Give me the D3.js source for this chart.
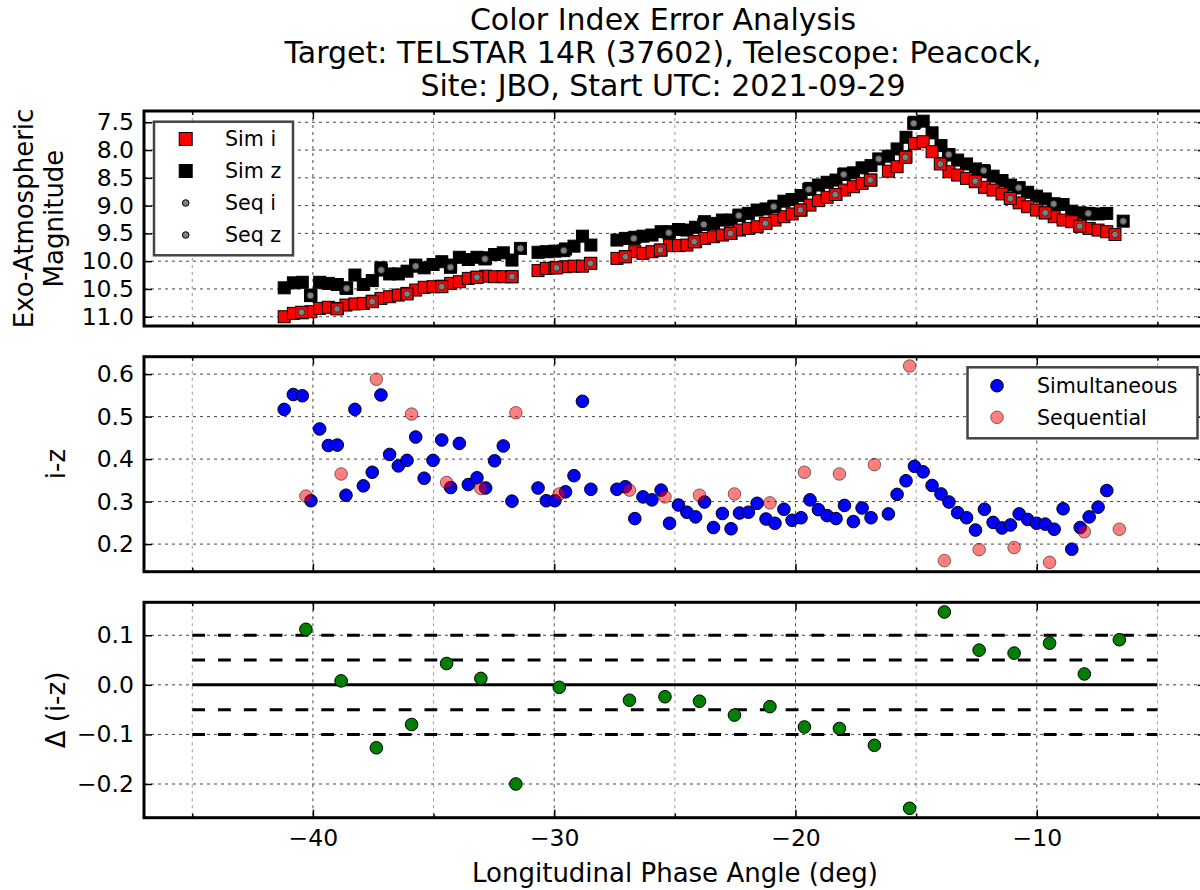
<!DOCTYPE html>
<html>
<head>
  <meta charset="utf-8">
  <title>Color Index Error Analysis</title>
  <style>
    body { margin: 0; padding: 0; background: white; }
    svg { display: block; font-family: "DejaVu Sans", sans-serif; }
    .grid { stroke: #444; stroke-width: 1; stroke-dasharray: 3,4; }
    .grid.minor { stroke: #999; }
    .spine { fill: none; stroke: black; stroke-width: 3; }
    .tick line { stroke: black; stroke-width: 1.5; }
    .tick text { font-family: "DejaVu Sans", sans-serif; font-size: 23.5px; fill: black; }
    .label { font-size: 26px; }
    .title { font-size: 30px; }
    .legend .box { fill: white; stroke: #444; stroke-width: 2.5; }
    .legend text { font-size: 20.6px; }
  </style>
</head>
<body>
  <div id="chart"></div>
  <script src="https://d3js.org/d3.v7.min.js"></script>
  <script>

  // simultaneous i/z frames: phase angle (deg), magnitudes and colour
  var simX = [-41.19, -40.81, -40.44, -40.08, -39.72, -39.36, -38.99, -38.63, -38.26, -37.91,
              -37.54, -37.18, -36.82, -36.46, -36.10, -35.74, -35.39, -35.02, -34.66, -34.29,
              -33.93, -33.56, -33.20, -32.84, -32.47, -32.11, -31.75, -30.67, -30.33, -29.97,
              -29.53, -29.18, -28.83, -28.48, -27.40, -27.05, -26.66, -26.32, -25.95, -25.57,
              -25.22, -24.85, -24.50, -24.14, -23.77, -23.40, -23.03, -22.67, -22.32, -21.95,
              -21.59, -21.22, -20.85, -20.48, -20.14, -19.77, -19.40, -19.05, -18.69, -18.32,
              -17.97, -17.60, -17.24, -16.87, -16.15, -15.79, -15.42, -15.07, -14.71, -14.34,
              -13.97, -13.64, -13.28, -12.91, -12.54, -12.17, -11.81, -11.44, -11.09, -10.73,
              -10.38, -10.01, -9.65, -9.28, -8.91, -8.55, -8.20, -7.83, -7.46, -7.10]
  var simI = [11.00, 10.94, 10.93, 10.91, 10.85, 10.83, 10.85, 10.79, 10.77, 10.76,
              10.72, 10.67, 10.64, 10.61, 10.58, 10.52, 10.47, 10.46, 10.45, 10.40,
              10.37, 10.31, 10.29, 10.27, 10.28, 10.28, 10.28, 10.17, 10.13, 10.12,
              10.10, 10.09, 10.09, 10.04, 9.95, 9.92, 9.83, 9.86, 9.83, 9.80,
              9.72, 9.72, 9.71, 9.65, 9.59, 9.56, 9.53, 9.50, 9.44, 9.41,
              9.38, 9.32, 9.26, 9.20, 9.15, 9.08, 8.99, 8.91, 8.85, 8.80,
              8.72, 8.66, 8.60, 8.54, 8.38, 8.30, 8.12, 7.88, 7.85, 8.03,
              8.24, 8.39, 8.45, 8.51, 8.57, 8.67, 8.72, 8.79, 8.87, 8.95,
              9.02, 9.08, 9.13, 9.20, 9.26, 9.29, 9.37, 9.41, 9.44, 9.47]
  var simZ = [10.48, 10.39, 10.38, 10.61, 10.38, 10.40, 10.42, 10.48, 10.25, 10.42,
              10.35, 10.12, 10.23, 10.23, 10.18, 10.07, 10.12, 10.06, 10.01, 10.07,
              9.93, 9.97, 9.93, 9.94, 9.88, 9.85, 9.98, 9.84, 9.83, 9.82,
              9.78, 9.73, 9.55, 9.71, 9.62, 9.59, 9.57, 9.55, 9.53, 9.47,
              9.47, 9.43, 9.44, 9.39, 9.29, 9.32, 9.26, 9.26, 9.17, 9.14,
              9.08, 9.06, 9.01, 8.92, 8.89, 8.82, 8.69, 8.63, 8.58, 8.54,
              8.43, 8.41, 8.32, 8.28, 8.11, 7.98, 7.77, 7.50, 7.48, 7.69,
              7.92, 8.09, 8.18, 8.25, 8.34, 8.39, 8.47, 8.55, 8.63, 8.68,
              8.76, 8.83, 8.88, 8.97, 8.98, 9.10, 9.13, 9.15, 9.15, 9.14]
  var simIZ = [0.517, 0.552, 0.549, 0.302, 0.471, 0.432, 0.433, 0.315, 0.517, 0.337,
               0.369, 0.551, 0.411, 0.384, 0.397, 0.452, 0.355, 0.397, 0.445, 0.333,
               0.437, 0.340, 0.356, 0.332, 0.396, 0.431, 0.301, 0.332, 0.302, 0.302,
               0.323, 0.361, 0.536, 0.329, 0.329, 0.335, 0.260, 0.311, 0.304, 0.327,
               0.249, 0.292, 0.275, 0.264, 0.299, 0.239, 0.272, 0.236, 0.273, 0.275,
               0.296, 0.259, 0.249, 0.282, 0.256, 0.262, 0.304, 0.281, 0.267, 0.260,
               0.291, 0.253, 0.285, 0.262, 0.271, 0.317, 0.349, 0.383, 0.370, 0.338,
               0.318, 0.299, 0.274, 0.262, 0.233, 0.282, 0.251, 0.238, 0.245, 0.271,
               0.258, 0.249, 0.247, 0.235, 0.283, 0.188, 0.239, 0.264, 0.287, 0.326]

  // sequential frames, one filter at a time
  var seqIX = [-40.47, -39.00, -37.54, -36.10, -34.66, -33.20, -31.75, -29.90, -28.50, -27.05, -25.60, -24.20,
               -22.70, -21.25, -19.80, -18.35, -16.90, -15.45, -14.00, -12.55, -11.10, -9.65, -8.22, -6.76]
  var seqI = [10.92, 10.86, 10.73, 10.59, 10.46, 10.29, 10.28, 10.12, 10.04, 9.92, 9.80, 9.65,
              9.50, 9.32, 9.08, 8.80, 8.54, 8.13, 8.25, 8.56, 8.87, 9.13, 9.37, 9.52]
  var seqZX = [-40.10, -38.60, -37.17, -35.74, -34.30, -32.87, -31.40, -29.60, -26.70, -25.25, -23.80, -22.35,
               -20.90, -19.45, -18.00, -16.55, -15.10, -13.65, -12.20, -10.75, -9.30, -7.87, -6.42]
  var seqZ = [10.62, 10.49, 10.16, 10.09, 10.11, 9.96, 9.77, 9.81, 9.59, 9.49, 9.34, 9.18,
              9.02, 8.71, 8.44, 8.16, 7.52, 8.08, 8.37, 8.68, 8.97, 9.14, 9.28]

  // sequential i-z and its difference to the simultaneous colour
  var seqX = [-40.29, -38.83, -37.37, -35.91, -34.46, -33.04, -31.59, -29.79, -26.88, -25.41, -23.98, -22.53,
              -21.06, -19.63, -18.18, -16.73, -15.27, -13.83, -12.39, -10.94, -9.47, -8.03, -6.58]
  var seqIZ = [0.313, 0.365, 0.588, 0.506, 0.345, 0.331, 0.509, 0.318, 0.327, 0.311, 0.315, 0.318,
               0.297, 0.369, 0.365, 0.387, 0.619, 0.161, 0.187, 0.192, 0.157, 0.229, 0.235]
  var deltaIZ = [0.112, 0.008, -0.127, -0.080, 0.043, 0.013, -0.200, -0.005, -0.031, -0.024, -0.033, -0.061,
                 -0.044, -0.085, -0.088, -0.122, -0.249, 0.147, 0.070, 0.064, 0.084, 0.022, 0.091]

  var titleLines = ["Color Index Error Analysis",
                    "Target: TELSTAR 14R (37602), Telescope: Peacock,",
                    "Site: JBO, Start UTC: 2021-09-29"]
  var magTicks = [7.5, 8.0, 8.5, 9.0, 9.5, 10.0, 10.5, 11.0]
  var izTicks = [0.2, 0.3, 0.4, 0.5, 0.6]
  var deltaTicks = [-0.2, -0.1, 0.0, 0.1]
  var xMajor = [-40, -30, -20, -10]
  var xMinor = [-45, -35, -25, -15, -5]
  var dashedLevels = [-0.1, -0.05, 0.05, 0.1]
  var refSpan = [-45, -5]

  var width = 1200,
      height = 890

  var svg = d3.select("#chart").append("svg")
      .attr("width", width)
      .attr("height", height)

  var left = 144, right = 1205.7
  var x = d3.scaleLinear().domain([-47, -3]).range([left, right])
  var fmt1 = d3.format(".1f")

  // title
  svg.selectAll(".title").data(titleLines).enter().append("text")
      .attr("class", "title")
      .attr("x", 663)
      .attr("y", function (d, i) { return 30 + i * 33 })
      .attr("text-anchor", "middle")
      .text(function (d) { return d })

  function makePanel(top, bottom, domain, ticks) {
    var y = d3.scaleLinear().domain(domain).range([bottom, top])
    var g = svg.append("g")
    g.selectAll(".vgrid").data(xMinor.concat(xMajor)).enter().append("line")
        .attr("class", function (d) { return xMajor.includes(d) ? "grid" : "grid minor" })
        .attr("x1", x).attr("x2", x)
        .attr("y1", top).attr("y2", bottom)
    g.selectAll(".hgrid").data(ticks).enter().append("line")
        .attr("class", "grid")
        .attr("x1", left).attr("x2", right)
        .attr("y1", y).attr("y2", y)
    return { g: g, y: y, top: top, bottom: bottom, ticks: ticks }
  }

  function finishPanel(p, showX) {
    var g = p.g.append("g")
    g.append("g").attr("transform", "translate(" + left + ",0)")
        .call(d3.axisLeft(p.y).tickValues(p.ticks).tickFormat(fmt1)
          .tickSizeInner(-8).tickSizeOuter(0).tickPadding(10))
    g.append("g").attr("transform", "translate(" + right + ",0)")
        .call(d3.axisRight(p.y).tickValues(p.ticks).tickFormat("")
          .tickSizeInner(-8).tickSizeOuter(0))
    g.append("g").attr("transform", "translate(0," + p.bottom + ")")
        .call(d3.axisBottom(x).tickValues(xMajor).tickFormat(showX ? d3.format("d") : "")
          .tickSizeInner(-8).tickSizeOuter(0).tickPadding(12))
    g.append("g").attr("transform", "translate(0," + p.bottom + ")")
        .call(d3.axisBottom(x).tickValues(xMinor).tickFormat("").tickSizeInner(-4).tickSizeOuter(0))
    g.append("g").attr("transform", "translate(0," + p.top + ")")
        .call(d3.axisTop(x).tickValues(xMajor).tickFormat("").tickSizeInner(-8).tickSizeOuter(0))
    g.append("g").attr("transform", "translate(0," + p.top + ")")
        .call(d3.axisTop(x).tickValues(xMinor).tickFormat("").tickSizeInner(-4).tickSizeOuter(0))
    g.selectAll(".domain").remove()
    g.append("rect").attr("class", "spine")
        .attr("x", left).attr("y", p.top)
        .attr("width", right - left).attr("height", p.bottom - p.top)
  }

  function squares(g, xs, ys, y, fill, stroke) {
    g.append("g").selectAll("rect").data(xs).enter().append("rect")
        .attr("x", function (d) { return x(d) - 6 })
        .attr("y", function (d, i) { return y(ys[i]) - 6 })
        .attr("width", 12).attr("height", 12)
        .attr("fill", fill)
        .attr("stroke", stroke)
        .attr("stroke-width", 1)
  }

  function dots(g, xs, ys, y, r, fill, stroke, opacity) {
    g.append("g").selectAll("circle").data(xs).enter().append("circle")
        .attr("cx", function (d) { return x(d) })
        .attr("cy", function (d, i) { return y(ys[i]) })
        .attr("r", r)
        .attr("fill", fill)
        .attr("fill-opacity", opacity)
        .attr("stroke", stroke)
        .attr("stroke-opacity", opacity)
        .attr("stroke-width", 1)
  }

  function legend(x0, y0, w, h, items, markerX, textX) {
    var lg = svg.append("g").attr("class", "legend")
    lg.append("rect").attr("class", "box")
        .attr("x", x0).attr("y", y0).attr("width", w).attr("height", h)
    items.forEach(function (it) {
      if (it.shape === "square") {
        lg.append("rect").attr("x", markerX - 6.5).attr("y", it.y - 6.5)
            .attr("width", 13).attr("height", 13)
            .attr("fill", it.fill).attr("stroke", "black")
      } else {
        lg.append("circle").attr("cx", markerX).attr("cy", it.y).attr("r", it.r)
            .attr("fill", it.fill).attr("fill-opacity", it.opacity || 1)
            .attr("stroke", "black").attr("stroke-opacity", it.opacity || 1)
      }
      lg.append("text").attr("x", textX).attr("y", it.y).attr("dy", "0.36em").text(it.label)
    })
  }

  // --- magnitudes
  var mag = makePanel(111, 326, [11.167, 7.297], magTicks)
  squares(mag.g, simX, simZ, mag.y, "black", "black")
  squares(mag.g, simX, simI, mag.y, "red", "black")
  squares(mag.g, seqZX, seqZ, mag.y, "black", "black")
  squares(mag.g, seqIX, seqI, mag.y, "red", "black")
  dots(mag.g, seqZX, seqZ, mag.y, 3.3, "#808080", "#333", 1)
  dots(mag.g, seqIX, seqI, mag.y, 3.3, "#808080", "#333", 1)
  finishPanel(mag, false)

  // --- colour index
  var iz = makePanel(356.7, 571.7, [0.135, 0.641], izTicks)
  dots(iz.g, simX, simIZ, iz.y, 6.3, "blue", "black", 1)
  dots(iz.g, seqX, seqIZ, iz.y, 6.3, "red", "black", 0.5)
  finishPanel(iz, false)

  // --- difference
  var dl = makePanel(602.3, 817.7, [-0.268, 0.1665], deltaTicks)
  dl.g.selectAll(".ref").data(dashedLevels).enter().append("line")
      .attr("x1", x(refSpan[0])).attr("x2", x(refSpan[1]))
      .attr("y1", dl.y).attr("y2", dl.y)
      .attr("stroke", "black").attr("stroke-width", 3)
      .attr("stroke-dasharray", "12.8,13")
  dl.g.append("line")
      .attr("x1", x(refSpan[0])).attr("x2", x(refSpan[1]))
      .attr("y1", dl.y(0)).attr("y2", dl.y(0))
      .attr("stroke", "black").attr("stroke-width", 3)
  dots(dl.g, seqX, deltaIZ, dl.y, 6.3, "green", "black", 1)
  finishPanel(dl, true)

  // axis labels
  function vlabel(cx, cy, txt) {
    svg.append("text").attr("class", "label")
        .attr("transform", "translate(" + cx + "," + cy + ") rotate(-90)")
        .attr("text-anchor", "middle")
        .attr("dy", "0.36em")
        .text(txt)
  }
  vlabel(24, 218.5, "Exo-Atmospheric")
  vlabel(54, 218.5, "Magnitude")
  vlabel(56, 464, "i-z")
  vlabel(56, 710, "\u0394 (i-z)")

  svg.append("text").attr("class", "label")
      .attr("x", 675).attr("y", 882)
      .attr("text-anchor", "middle")
      .text("Longitudinal Phase Angle (deg)")

  // legends
  legend(154, 121.7, 139, 133.6, [
    { label: "Sim i", shape: "square", fill: "red", y: 139 },
    { label: "Sim z", shape: "square", fill: "black", y: 171 },
    { label: "Seq i", shape: "circle", fill: "#808080", r: 3.3, y: 203 },
    { label: "Seq z", shape: "circle", fill: "#808080", r: 3.3, y: 235 }
  ], 185.7, 225)

  legend(967.5, 367.3, 230, 71, [
    { label: "Simultaneous", shape: "circle", fill: "blue", r: 6.3, y: 385.7 },
    { label: "Sequential", shape: "circle", fill: "red", r: 6.3, opacity: 0.5, y: 417.3 }
  ], 997, 1037)

  </script>
</body>
</html>
